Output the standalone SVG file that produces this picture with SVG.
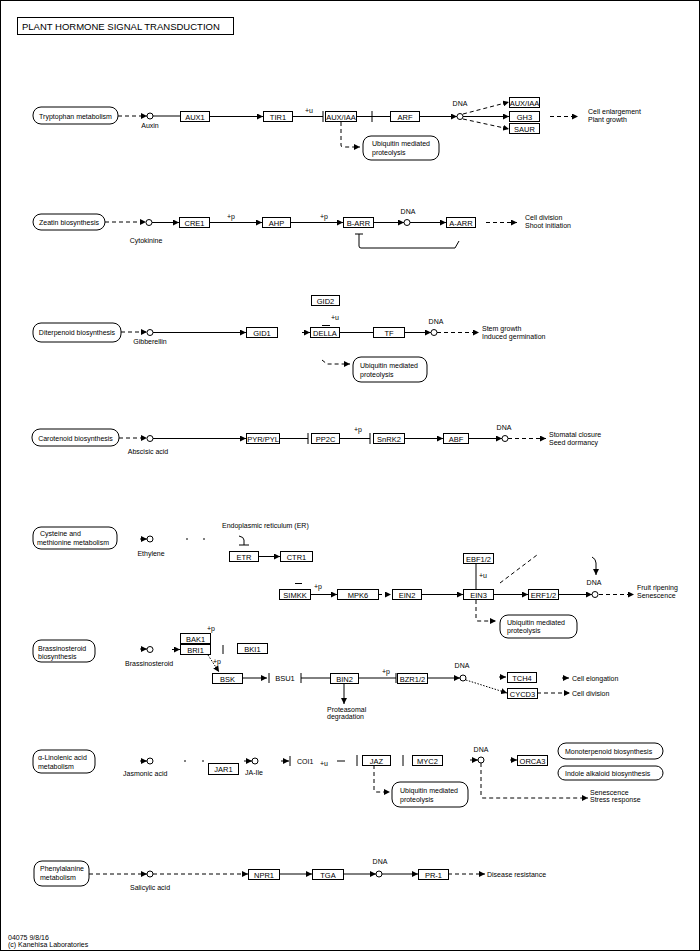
<svg xmlns="http://www.w3.org/2000/svg" width="700" height="951" viewBox="0 0 700 951">
<style>
text{font-family:"Liberation Sans",Arial,sans-serif;font-size:7px;fill:#000}
.b{font-size:7.5px;text-anchor:middle}
.c{text-anchor:middle}
.g rect{fill:#fff;stroke:#000;stroke-width:1}
.m rect{fill:#fff;stroke:#000;stroke-width:1}
.cp circle{fill:#fff;stroke:#000;stroke-width:1}
#connectors path,#connectors line{fill:none;stroke:#000;stroke-width:1}
#connectors .d{stroke-dasharray:4,3}
#connectors .o{stroke-dasharray:1.5,1.5}
.t{font-size:9.5px}
</style>
<defs>
<marker id="a" markerWidth="6" markerHeight="6" refX="6" refY="3" orient="auto" markerUnits="userSpaceOnUse"><path d="M0,0 L6,3 L0,6 z" fill="#000"/></marker>
</defs>
<rect x="0.5" y="0.5" width="699" height="950" fill="#fff" stroke="#000"/>
<g id="title"><rect x="17.5" y="17.5" width="216" height="17" fill="#fff" stroke="#000"/><text class="t" x="22" y="30">PLANT HORMONE SIGNAL TRANSDUCTION</text></g>

<g id="connectors">
<!-- row 1 -->
<line class="d" x1="118" y1="116" x2="147" y2="116" marker-end="url(#a)"/>
<line x1="153" y1="116" x2="180" y2="116"/>
<line x1="209" y1="116.5" x2="263" y2="116.5" marker-end="url(#a)"/>
<line x1="292" y1="116.5" x2="323" y2="116.5"/><line x1="323" y1="111" x2="323" y2="122"/>
<line x1="356" y1="116.5" x2="390" y2="116.5"/><line x1="372" y1="111" x2="372" y2="122"/>
<line x1="419" y1="116.5" x2="457" y2="116.5" marker-end="url(#a)"/>
<line class="d" x1="463" y1="114" x2="509" y2="102" marker-end="url(#a)"/>
<line x1="463" y1="116.5" x2="509" y2="116.5" marker-end="url(#a)"/>
<line class="d" x1="463" y1="119" x2="509" y2="129" marker-end="url(#a)"/>
<line class="d" x1="550" y1="116.5" x2="578" y2="116.5" marker-end="url(#a)"/>
<path class="d" d="M341,122 V145 Q341,147 343,147 H360" marker-end="url(#a)"/>
<!-- row 2 -->
<line class="d" x1="105" y1="222" x2="146" y2="222" marker-end="url(#a)"/>
<line x1="152" y1="222.5" x2="179" y2="222.5" marker-end="url(#a)"/>
<line x1="209" y1="222.5" x2="262" y2="222.5" marker-end="url(#a)"/>
<line x1="290" y1="222.5" x2="343" y2="222.5" marker-end="url(#a)"/>
<line x1="373" y1="222.5" x2="404" y2="222.5" marker-end="url(#a)"/>
<line x1="410" y1="222.5" x2="446" y2="222.5" marker-end="url(#a)"/>
<line class="d" x1="486" y1="222.5" x2="517" y2="222.5" marker-end="url(#a)"/>
<path d="M459,241 L455,248 H361 Q359,248 359,246 V234"/><line x1="355" y1="234" x2="363" y2="234"/>
<!-- row 3 -->
<line class="d" x1="121" y1="332" x2="147" y2="332" marker-end="url(#a)"/>
<line x1="153" y1="332.5" x2="246" y2="332.5" marker-end="url(#a)"/>
<line x1="322" y1="325.5" x2="330" y2="325.5"/>
<line x1="302" y1="332.5" x2="310" y2="332.5" marker-end="url(#a)"/>
<line x1="339" y1="332.5" x2="373" y2="332.5"/>
<line x1="404" y1="332.5" x2="431" y2="332.5" marker-end="url(#a)"/>
<line class="d" x1="437" y1="332.5" x2="479" y2="332.5" marker-end="url(#a)"/>
<path class="d" d="M322,360 L327,364 H350" marker-end="url(#a)"/>
<!-- row 4 -->
<line class="d" x1="119" y1="438" x2="147" y2="438" marker-end="url(#a)"/>
<line x1="153" y1="438.5" x2="246" y2="438.5" marker-end="url(#a)"/>
<line x1="279" y1="438.5" x2="308" y2="438.5"/><line x1="308" y1="433" x2="308" y2="444"/>
<line x1="339" y1="438.5" x2="370" y2="438.5"/><line x1="370" y1="433" x2="370" y2="444"/>
<line x1="404" y1="438.5" x2="443" y2="438.5" marker-end="url(#a)"/>
<line x1="468" y1="438.5" x2="502" y2="438.5" marker-end="url(#a)"/>
<line class="d" x1="508" y1="438.5" x2="546" y2="438.5" marker-end="url(#a)"/>
<!-- row 5 -->
<line x1="140" y1="539" x2="147" y2="539" marker-end="url(#a)"/>
<line x1="186" y1="539" x2="188" y2="539"/><line x1="203" y1="539" x2="205" y2="539"/>
<path d="M239,536 Q244,537 244,540 V545"/><line x1="239" y1="545" x2="249" y2="545"/>
<line x1="258" y1="556.5" x2="280" y2="556.5" marker-end="url(#a)"/>
<line x1="295" y1="583.5" x2="302" y2="583.5"/>
<line x1="310" y1="594.5" x2="337" y2="594.5" marker-end="url(#a)"/>
<line class="d" x1="378" y1="594.5" x2="391" y2="594.5" marker-end="url(#a)"/>
<line x1="421" y1="594.5" x2="463" y2="594.5" marker-end="url(#a)"/>
<line x1="476" y1="563" x2="476" y2="589"/>
<line class="d" x1="500" y1="583" x2="537" y2="555"/>
<line x1="493" y1="594.5" x2="528" y2="594.5" marker-end="url(#a)"/>
<line x1="558" y1="594.5" x2="592" y2="594.5" marker-end="url(#a)"/>
<path d="M592,557 Q596,559 596,563 V575" marker-end="url(#a)"/>
<line class="d" x1="599" y1="594.5" x2="634" y2="594.5" marker-end="url(#a)"/>
<path class="d" d="M476,600 V619 Q476,621 478,621 H496" marker-end="url(#a)"/>
<!-- row 6 -->
<line x1="140" y1="649" x2="147" y2="649" marker-end="url(#a)"/>
<line x1="172" y1="649.5" x2="180" y2="649.5" marker-end="url(#a)"/>
<line x1="223" y1="645" x2="223" y2="654"/>
<line class="o" x1="208" y1="655" x2="219" y2="672" marker-end="url(#a)"/>
<line x1="242" y1="678" x2="267" y2="678" marker-end="url(#a)"/>
<line x1="269" y1="673" x2="269" y2="683"/>
<line x1="301" y1="673" x2="301" y2="683"/><line x1="301" y1="678" x2="330" y2="678"/>
<line x1="344" y1="683" x2="344" y2="704" marker-end="url(#a)"/>
<line x1="358" y1="678" x2="396" y2="678"/><line x1="396" y1="673" x2="396" y2="683"/>
<line x1="427" y1="678" x2="460" y2="678" marker-end="url(#a)"/>
<line class="o" x1="466" y1="680" x2="507" y2="693" marker-end="url(#a)"/>
<line x1="499" y1="677" x2="506" y2="677" marker-end="url(#a)"/>
<line x1="562" y1="678" x2="569" y2="678" marker-end="url(#a)"/>
<line class="d" x1="537" y1="693" x2="570" y2="693" marker-end="url(#a)"/>
<!-- row 7 -->
<line x1="140" y1="761" x2="147" y2="761" marker-end="url(#a)"/>
<line x1="184" y1="761" x2="186" y2="761"/><line x1="202" y1="761" x2="204" y2="761"/>
<line x1="244" y1="761" x2="252" y2="761" marker-end="url(#a)"/>
<line x1="281" y1="761" x2="289" y2="761" marker-end="url(#a)"/>
<line x1="290" y1="756" x2="290" y2="766"/>
<line x1="337" y1="761" x2="345" y2="761"/>
<line x1="357" y1="755" x2="357" y2="766"/>
<line x1="403" y1="755" x2="403" y2="766"/>
<line x1="470" y1="760" x2="478" y2="760" marker-end="url(#a)"/>
<line x1="510" y1="760" x2="517" y2="760" marker-end="url(#a)"/>
<path class="d" d="M481,763 V796 Q481,798 483,798 H588" marker-end="url(#a)"/>
<path class="d" d="M374,765 V790 Q374,792 376,792 H390" marker-end="url(#a)"/>
<!-- row 8 -->
<line class="d" x1="89" y1="874" x2="147" y2="874" marker-end="url(#a)"/>
<line class="d" x1="153" y1="874" x2="248" y2="874" marker-end="url(#a)"/>
<line x1="279" y1="874" x2="312" y2="874" marker-end="url(#a)"/>
<line x1="343" y1="874" x2="376" y2="874" marker-end="url(#a)"/>
<line x1="382" y1="874" x2="418" y2="874" marker-end="url(#a)"/>
<line class="d" x1="448" y1="874" x2="485" y2="874" marker-end="url(#a)"/>
</g>

<!-- row 1 nodes -->
<g id="map-trp" class="m"><rect x="33" y="107" width="85" height="17" rx="8"/><text class="c" x="75.5" y="119">Tryptophan metabolism</text></g>
<g id="cpd-auxin" class="cp"><circle cx="150" cy="116" r="3"/><text class="c" x="150" y="128">Auxin</text></g>
<g id="aux1" class="g"><rect x="180.5" y="111.5" width="29" height="10"/><text class="b" x="195" y="119.5">AUX1</text></g>
<g id="tir1" class="g"><rect x="263.5" y="111.5" width="29" height="10"/><text class="b" x="278" y="119.5">TIR1</text><text x="305" y="113">+u</text></g>
<g id="auxiaa" class="g"><rect x="325.5" y="111.5" width="31" height="10"/><text class="b" x="341" y="119.5">AUX/IAA</text></g>
<g id="arf" class="g"><rect x="390.5" y="111.5" width="29" height="10"/><text class="b" x="405" y="119.5">ARF</text></g>
<g id="dna1" class="cp"><circle cx="460" cy="116.5" r="3"/><text class="c" x="460" y="106">DNA</text></g>
<g id="auxiaa2" class="g"><rect x="509.5" y="97.5" width="30" height="10"/><text class="b" x="524.5" y="105.5">AUX/IAA</text></g>
<g id="gh3" class="g"><rect x="509.5" y="111.5" width="30" height="10"/><text class="b" x="524.5" y="119.5">GH3</text></g>
<g id="saur" class="g"><rect x="509.5" y="123.5" width="30" height="10"/><text class="b" x="524.5" y="131.5">SAUR</text></g>
<g id="out1"><text x="588" y="114">Cell enlargement</text><text x="588" y="122">Plant growth</text></g>
<g id="ub1" class="m"><rect x="363" y="136" width="76" height="24" rx="8"/><text x="372" y="146">Ubiquitin mediated</text><text x="372" y="155">proteolysis</text></g>

<!-- row 2 -->
<g id="map-zeatin" class="m"><rect x="33" y="214" width="72" height="16" rx="8"/><text class="c" x="69" y="225">Zeatin biosynthesis</text></g>
<g id="cpd-cyt" class="cp"><circle cx="149" cy="222.5" r="3"/><text class="c" x="146" y="243">Cytokinine</text></g>
<g id="cre1" class="g"><rect x="179.5" y="217.5" width="30" height="10"/><text class="b" x="194.5" y="225.5">CRE1</text><text x="227" y="219">+p</text></g>
<g id="ahp" class="g"><rect x="262.5" y="217.5" width="28" height="10"/><text class="b" x="276.5" y="225.5">AHP</text><text x="320" y="219">+p</text></g>
<g id="barr" class="g"><rect x="343.5" y="217.5" width="30" height="10"/><text class="b" x="358.5" y="225.5">B-ARR</text></g>
<g id="dna2" class="cp"><circle cx="407" cy="222.5" r="3"/><text class="c" x="408" y="214">DNA</text></g>
<g id="aarr" class="g"><rect x="446.5" y="217.5" width="29" height="10"/><text class="b" x="461" y="225.5">A-ARR</text></g>
<g id="out2"><text x="525" y="220">Cell division</text><text x="525" y="228">Shoot initiation</text></g>

<!-- row 3 -->
<g id="map-diterp" class="m"><rect x="33" y="323" width="88" height="19" rx="8"/><text class="c" x="77" y="335">Diterpenoid biosynthesis</text></g>
<g id="cpd-ga" class="cp"><circle cx="150" cy="332.5" r="3"/><text class="c" x="150" y="344">Gibberellin</text></g>
<g id="gid1" class="g"><rect x="246.5" y="327.5" width="31" height="10"/><text class="b" x="262" y="335.5">GID1</text></g>
<g id="gid2" class="g"><rect x="311.5" y="295.5" width="28" height="10"/><text class="b" x="325.5" y="303.5">GID2</text><text x="331" y="320">+u</text></g>
<g id="della" class="g"><rect x="310.5" y="327.5" width="29" height="10"/><text class="b" x="325" y="335.5">DELLA</text></g>
<g id="tf" class="g"><rect x="373.5" y="327.5" width="31" height="10"/><text class="b" x="389" y="335.5">TF</text></g>
<g id="dna3" class="cp"><circle cx="434" cy="332.5" r="3"/><text class="c" x="436" y="324">DNA</text></g>
<g id="out3"><text x="482" y="331">Stem growth</text><text x="482" y="339">Induced germination</text></g>
<g id="ub3" class="m"><rect x="353" y="357" width="74" height="25" rx="8"/><text x="360" y="368">Ubiquitin mediated</text><text x="360" y="377">proteolysis</text></g>

<!-- row 4 -->
<g id="map-carot" class="m"><rect x="32" y="429" width="87" height="17" rx="8"/><text class="c" x="75.5" y="441">Carotenoid biosynthesis</text></g>
<g id="cpd-aba" class="cp"><circle cx="150" cy="438.5" r="3"/><text class="c" x="148" y="454">Abscisic acid</text></g>
<g id="pyr" class="g"><rect x="246.5" y="433.5" width="33" height="10"/><text class="b" x="263" y="441.5">PYR/PYL</text></g>
<g id="pp2c" class="g"><rect x="311.5" y="433.5" width="28" height="10"/><text class="b" x="325.5" y="441.5">PP2C</text><text x="354" y="432">+p</text></g>
<g id="snrk2" class="g"><rect x="373.5" y="433.5" width="31" height="10"/><text class="b" x="389" y="441.5">SnRK2</text></g>
<g id="abf" class="g"><rect x="443.5" y="433.5" width="25" height="10"/><text class="b" x="456" y="441.5">ABF</text></g>
<g id="dna4" class="cp"><circle cx="505" cy="438.5" r="3"/><text class="c" x="504" y="430">DNA</text></g>
<g id="out4"><text x="549" y="437">Stomatal closure</text><text x="549" y="445">Seed dormancy</text></g>

<!-- row 5 -->
<g id="map-cys" class="m"><rect x="33" y="527" width="84" height="22" rx="8"/><text x="40" y="536">Cysteine and</text><text x="37" y="545">methionine metabolism</text></g>
<g id="cpd-eth" class="cp"><circle cx="150" cy="539" r="3"/><text class="c" x="151" y="556">Ethylene</text></g>
<g id="er"><text x="222" y="528">Endoplasmic reticulum (ER)</text></g>
<g id="etr" class="g"><rect x="229.5" y="551.5" width="29" height="10"/><text class="b" x="244" y="559.5">ETR</text></g>
<g id="ctr1" class="g"><rect x="280.5" y="551.5" width="32" height="10"/><text class="b" x="296.5" y="559.5">CTR1</text></g>
<g id="simkk" class="g"><rect x="279.5" y="589.5" width="31" height="10"/><text class="b" x="295" y="597.5">SIMKK</text><text x="314" y="589">+p</text></g>
<g id="mpk6" class="g"><rect x="337.5" y="589.5" width="41" height="10"/><text class="b" x="358" y="597.5">MPK6</text></g>
<g id="ein2" class="g"><rect x="392.5" y="589.5" width="29" height="10"/><text class="b" x="407" y="597.5">EIN2</text></g>
<g id="ein3" class="g"><rect x="463.5" y="589.5" width="30" height="10"/><text class="b" x="478.5" y="597.5">EIN3</text></g>
<g id="ebf" class="g"><rect x="463.5" y="553.5" width="30" height="10"/><text class="b" x="478.5" y="561.5">EBF1/2</text><text x="479" y="578">+u</text></g>
<g id="erf" class="g"><rect x="528.5" y="589.5" width="30" height="10"/><text class="b" x="543.5" y="597.5">ERF1/2</text></g>
<g id="dna5" class="cp"><circle cx="595" cy="594.5" r="3"/><text class="c" x="594" y="585">DNA</text></g>
<g id="out5"><text x="637" y="590">Fruit ripening</text><text x="637" y="598">Senescence</text></g>
<g id="ub5" class="m"><rect x="500" y="615" width="77" height="23" rx="8"/><text x="507" y="625">Ubiquitin mediated</text><text x="507" y="633">proteolysis</text></g>

<!-- row 6 -->
<g id="map-brass" class="m"><rect x="33" y="640" width="62" height="22" rx="8"/><text x="38" y="651">Brassinosteroid</text><text x="38" y="659">biosynthesis</text></g>
<g id="cpd-br" class="cp"><circle cx="150" cy="649.5" r="3"/><text x="125" y="666">Brassinosteroid</text></g>
<g id="bak1" class="g"><rect x="180.5" y="633.5" width="30" height="10"/><text class="b" x="195.5" y="641.5">BAK1</text><text x="207" y="631">+p</text></g>
<g id="bri1" class="g"><rect x="180.5" y="644.5" width="30" height="10"/><text class="b" x="195.5" y="652.5">BRI1</text><text x="213" y="664">+p</text></g>
<g id="bki1" class="g"><rect x="237.5" y="643.5" width="30" height="10"/><text class="b" x="252.5" y="651.5">BKI1</text></g>
<g id="bsk" class="g"><rect x="212.5" y="673.5" width="30" height="10"/><text class="b" x="227.5" y="681.5">BSK</text></g>
<g id="bsu1"><text class="b" x="285" y="681">BSU1</text></g>
<g id="bin2" class="g"><rect x="330.5" y="673.5" width="28" height="10"/><text class="b" x="344.5" y="681.5">BIN2</text><text x="382" y="674">+p</text></g>
<g id="prot"><text x="327" y="712">Proteasomal</text><text x="327" y="719">degradation</text></g>
<g id="bzr" class="g"><rect x="397.5" y="673.5" width="30" height="10"/><text class="b" x="412.5" y="681.5">BZR1/2</text></g>
<g id="dna6" class="cp"><circle cx="463" cy="678" r="3"/><text class="c" x="462" y="668">DNA</text></g>
<g id="tch4" class="g"><rect x="507.5" y="672.5" width="29" height="10"/><text class="b" x="522" y="680.5">TCH4</text></g>
<g id="cycd3" class="g"><rect x="507.5" y="688.5" width="30" height="10"/><text class="b" x="522.5" y="696.5">CYCD3</text></g>
<g id="out6"><text x="572" y="681">Cell elongation</text><text x="572" y="696">Cell division</text></g>

<!-- row 7 -->
<g id="map-lin" class="m"><rect x="33" y="750" width="62" height="23" rx="8"/><text x="38" y="760">α-Linolenic acid</text><text x="38" y="769">metabolism</text></g>
<g id="cpd-ja" class="cp"><circle cx="150" cy="761" r="3"/><text x="123" y="776">Jasmonic acid</text></g>
<g id="jar1" class="g"><rect x="208.5" y="763.5" width="30" height="11"/><text class="b" x="223.5" y="772">JAR1</text></g>
<g id="cpd-jaile" class="cp"><circle cx="255" cy="761" r="3"/><text x="245" y="775">JA-Ile</text></g>
<g id="coi1"><text x="297" y="764">COI1</text><text x="320" y="766">+u</text></g>
<g id="jaz" class="g"><rect x="362.5" y="755.5" width="28" height="10"/><text class="b" x="376.5" y="763.5">JAZ</text></g>
<g id="myc2" class="g"><rect x="412.5" y="755.5" width="30" height="10"/><text class="b" x="427.5" y="763.5">MYC2</text></g>
<g id="dna7" class="cp"><circle cx="481" cy="760" r="3"/><text class="c" x="481" y="752">DNA</text></g>
<g id="orca3" class="g"><rect x="517.5" y="755.5" width="30" height="10"/><text class="b" x="532.5" y="763.5">ORCA3</text></g>
<g id="map-mono" class="m"><rect x="558" y="743" width="105" height="16" rx="8"/><text x="565" y="754">Monoterpenoid biosynthesis</text></g>
<g id="map-indole" class="m"><rect x="558" y="766" width="105" height="14" rx="7"/><text x="565" y="776">Indole alkaloid biosynthesis</text></g>
<g id="out7"><text x="590" y="795">Senescence</text><text x="590" y="802">Stress response</text></g>
<g id="ub7" class="m"><rect x="392" y="782" width="76" height="25" rx="8"/><text x="400" y="793">Ubiquitin mediated</text><text x="400" y="802">proteolysis</text></g>

<!-- row 8 -->
<g id="map-phe" class="m"><rect x="34" y="861" width="55" height="25" rx="8"/><text x="40" y="871">Phenylalanine</text><text x="40" y="880">metabolism</text></g>
<g id="cpd-sa" class="cp"><circle cx="150" cy="874" r="3"/><text x="130" y="890">Salicylic acid</text></g>
<g id="npr1" class="g"><rect x="248.5" y="869.5" width="31" height="10"/><text class="b" x="264" y="877.5">NPR1</text></g>
<g id="tga" class="g"><rect x="312.5" y="869.5" width="31" height="10"/><text class="b" x="328" y="877.5">TGA</text></g>
<g id="dna8" class="cp"><circle cx="379" cy="874" r="3"/><text class="c" x="380" y="864">DNA</text></g>
<g id="pr1" class="g"><rect x="418.5" y="869.5" width="30" height="10"/><text class="b" x="433.5" y="877.5">PR-1</text></g>
<g id="out8"><text x="487" y="877">Disease resistance</text></g>

<g id="footer"><text x="8" y="940">04075 9/8/16</text><text x="8" y="947">(c) Kanehisa Laboratories</text></g>
</svg>
